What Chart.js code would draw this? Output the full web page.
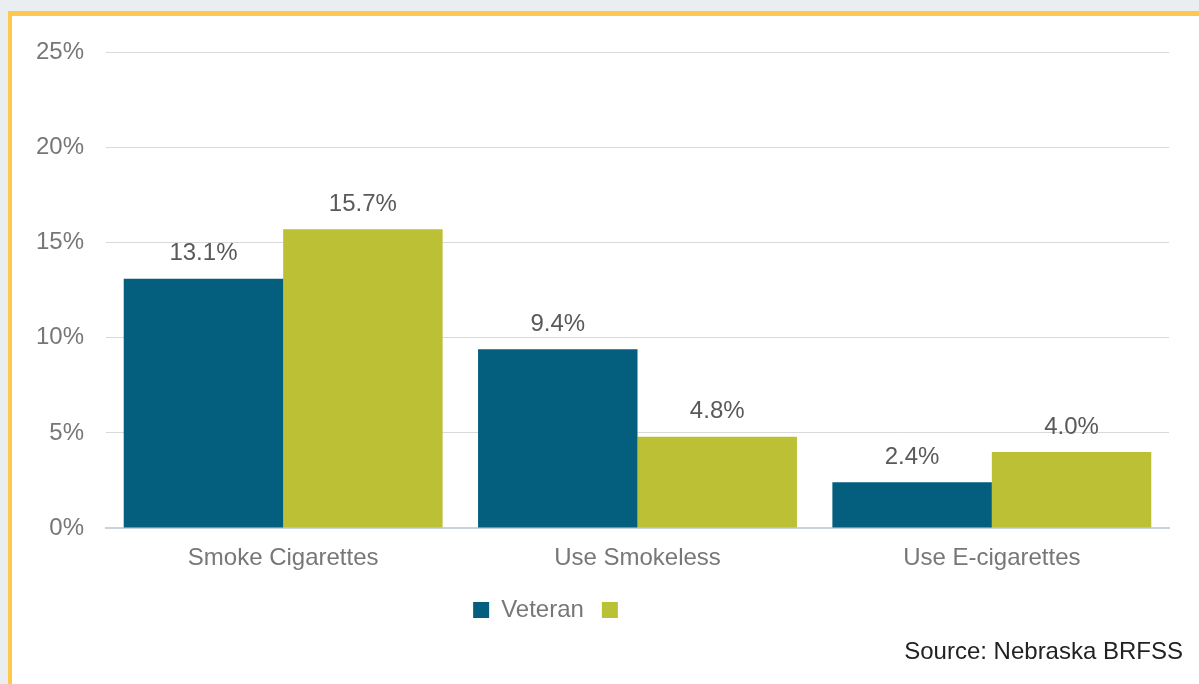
<!DOCTYPE html>
<html>
<head>
<meta charset="utf-8">
<script src="https://cdn.jsdelivr.net/npm/chart.js@4"></script>
<style>
  html, body { margin: 0; padding: 0; }
  body { width: 1199px; height: 684px; background: #eaeef1; position: relative; overflow: hidden; font-family: "Liberation Sans", Arial, sans-serif; }
  #frame { position: absolute; left: 8px; top: 11px; right: 0; bottom: 0; background: #fff; border-top: 5px solid #fec84e; border-left: 4px solid #fec84e; }
  #wrap { position: absolute; left: 0; top: 0; width: 1187px; height: 668px; }
  #source { position: absolute; right: 16px; top: 621px; font-size: 24px; line-height: 28px; color: #222; }
</style>
</head>
<body>
<div id="frame">
  <div id="wrap"><canvas id="smokingChart" width="1187" height="668"></canvas></div>
  <div id="source">Source: Nebraska BRFSS</div>
</div>
<script>
// categories and values (percent)
var categories = ['Smoke Cigarettes', 'Use Smokeless', 'Use E-cigarettes'];
var veteranValues = [13.1, 9.4, 2.4];
var otherValues = [15.7, 4.8, 4.0];
var seriesLabels = ['Veteran', ''];
var yTicks = [0, 5, 10, 15, 20, 25];

var blue = '#035f7d';
var green = '#bcc035';

// draws the value above each bar
var valueLabels = {
    id: 'valueLabels',
    afterDatasetsDraw(chart) {
        var ctx = chart.ctx;
        ctx.save();
        ctx.font = '24px "Liberation Sans", Arial, sans-serif';
        ctx.fillStyle = '#595959';
        ctx.textAlign = 'center';
        ctx.textBaseline = 'middle';
        chart.data.datasets.forEach(function (ds, i) {
            chart.getDatasetMeta(i).data.forEach(function (bar, j) {
                ctx.fillText(ds.data[j].toFixed(1) + '%', bar.x, bar.y - 25);
            });
        });
        ctx.restore();
    }
};

// legend sits left of centre in the original
var legendShift = {
    id: 'legendShift',
    afterLayout(chart) {
        chart.legend.left -= 39;
        chart.legend.right -= 39;
    }
};

var ctx = document.getElementById('smokingChart').getContext('2d');
var smokingChart = new Chart(ctx, {
    type: 'bar',
    data: {
        labels: categories,
        datasets: [
            { label: seriesLabels[0], data: veteranValues, backgroundColor: blue },
            { label: seriesLabels[1], data: otherValues, backgroundColor: green }
        ]
    },
    options: {
        responsive: false,
        animation: false,
        layout: { padding: { top: 35, right: 30, bottom: 52, left: 0 } },
        datasets: {
            bar: { categoryPercentage: 0.9, barPercentage: 1.0 }
        },
        scales: {
            x: {
                grid: { display: false, drawTicks: false },
                border: { display: true, color: '#c9d3dc', width: 2 },
                ticks: { color: '#777777', font: { size: 24, family: '"Liberation Sans", Arial, sans-serif' }, padding: 16 },
                afterFit(scale) { scale.height = 52; }
            },
            y: {
                min: 0,
                max: 25,
                afterBuildTicks(scale) { scale.ticks = yTicks.map(function (v) { return { value: v }; }); },
                grid: { color: '#d9d9d9', lineWidth: 1, drawTicks: false },
                border: { display: false },
                ticks: {
                    color: '#777777',
                    padding: 22,
                    font: { size: 24, family: '"Liberation Sans", Arial, sans-serif' },
                    callback: function (v) { return v + '%'; }
                },
                afterFit(scale) { scale.width = 94; }
            }
        },
        plugins: {
            legend: {
                position: 'bottom',
                labels: {
                    boxWidth: 16,
                    boxHeight: 16,
                    padding: 18,
                    color: '#777777',
                    font: { size: 24, family: '"Liberation Sans", Arial, sans-serif' }
                }
            },
            tooltip: { enabled: false }
        }
    },
    plugins: [valueLabels, legendShift]
});
</script>
</body>
</html>
